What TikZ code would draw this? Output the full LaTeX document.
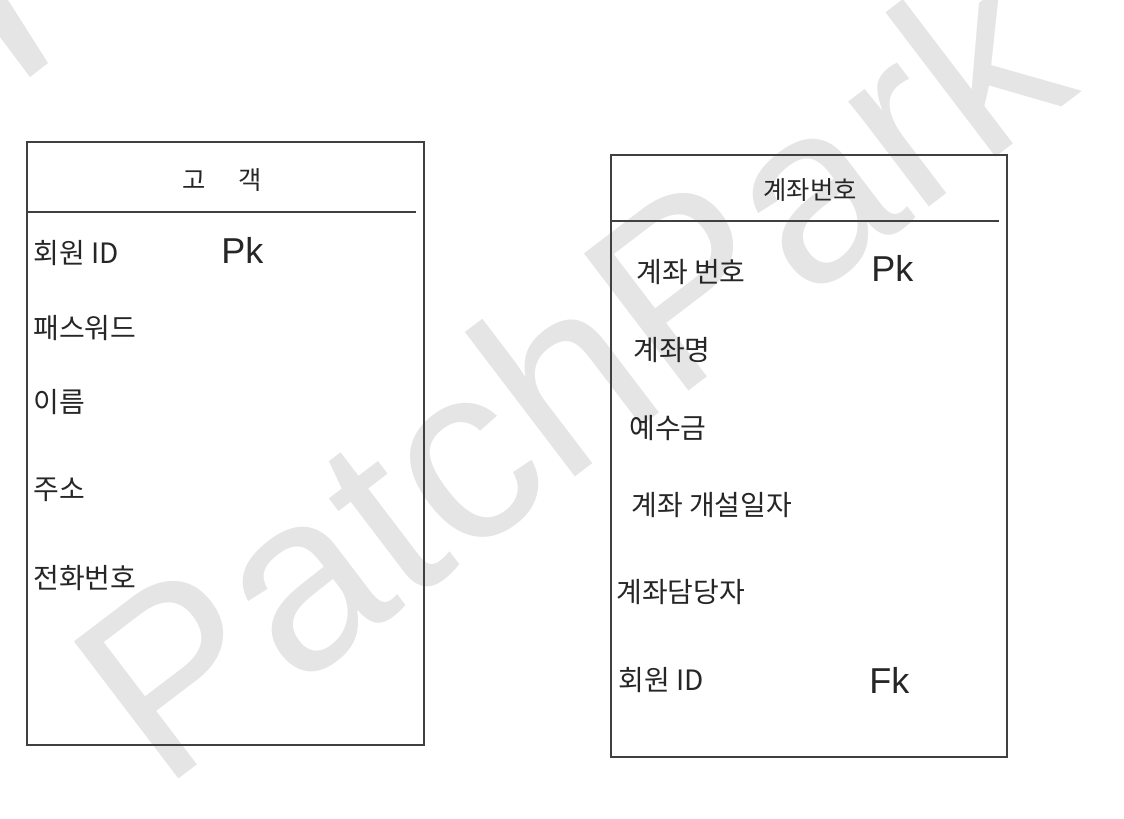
\documentclass[tikz,border=0pt]{standalone}
\usepackage{fontspec}
\setmainfont{Liberation Sans}
\newfontfamily\korfont{Noto Sans CJK KR}

\begin{document}
\begin{tikzpicture}[x=0.75pt,y=0.75pt,yscale=-1,xscale=1,
  tablebox/.style={draw=black!75, line width=1.1pt},
  field/.style={anchor=west, inner sep=0.75pt, text=black!85, font=\korfont\fontsize{21}{24}\selectfont},
  title/.style={inner sep=0.75pt, text=black!85, font=\korfont\fontsize{19}{22}\selectfont},
  keytag/.style={anchor=west, inner sep=0.75pt, text=black!85, font=\fontsize{27}{30}\selectfont},
  watermark/.style={anchor=base west, inner sep=0pt, text=black!10, font=\fontsize{188}{188}\selectfont, rotate=37.3}]
\useasboundingbox (0,0) rectangle (1124,818);

% Watermark
\node[watermark] (mark) at (162,792) {PatchPark};
\fill[black!10] (0,0) -- (8,0) -- (48,63) -- (30,77) -- (0,37) -- cycle;

%Shape: Rectangle [고객]
\draw[tablebox] (27,142) rectangle (424,745);
%Straight Lines
\draw[tablebox] (27,212) -- (416,212);
%Shape: Rectangle [계좌번호]
\draw[tablebox] (611,155) rectangle (1007,757);
%Straight Lines
\draw[tablebox] (610,221) -- (999,221);

% Text Node
\node[title] (custTitle) at (222,180) {고\hspace{25pt}객};
\node[field] (custId) at (32,253) {회원 ID};
\node[keytag] (custPk) at (220,250) {Pk};
\node[field] (custPw) at (32,328) {패스워드};
\node[field] (custName) at (32,402) {이름};
\node[field] (custAddr) at (32,490) {주소};
\node[field] (custTel) at (32,578) {전화번호};

% Text Node
\node[title] (acctTitle) at (810,190) {계좌번호};
\node[field] (acctNo) at (635,272) {계좌 번호};
\node[keytag] (acctPk) at (870,268) {Pk};
\node[field] (acctName) at (632,350) {계좌명};
\node[field] (acctDep) at (628,428) {예수금};
\node[field] (acctOpen) at (630,505) {계좌 개설일자};
\node[field] (acctMgr) at (615,592) {계좌담당자};
\node[field] (acctCust) at (617,680) {회원 ID};
\node[keytag] (acctFk) at (868,680) {Fk};

\end{tikzpicture}
\end{document}
